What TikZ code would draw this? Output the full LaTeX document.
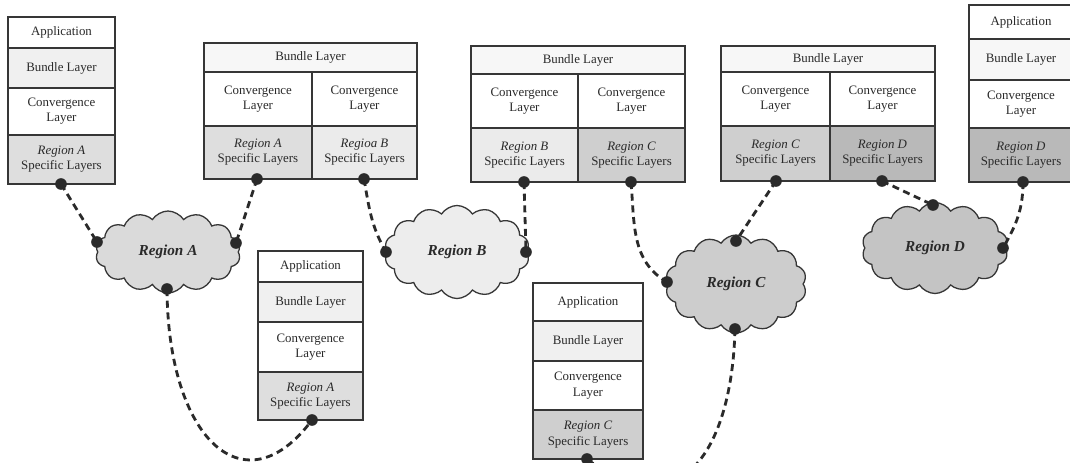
\documentclass[tikz,border=0pt]{standalone}
\usepackage{fontspec}
\setmainfont{Liberation Serif}
\usetikzlibrary{shapes.symbols}
\definecolor{ink}{HTML}{2A2A2A}
\definecolor{edge}{HTML}{363636}
\definecolor{gA}{HTML}{DEDEDE}
\definecolor{gB}{HTML}{EBEBEB}
\definecolor{gC}{HTML}{CFCFCF}
\definecolor{gD}{HTML}{B9B9B9}
\definecolor{gBun}{HTML}{F0F0F0}
\definecolor{gTop}{HTML}{F7F7F7}
\definecolor{clA}{HTML}{DADADA}
\definecolor{clB}{HTML}{EDEDED}
\definecolor{clC}{HTML}{CDCDCD}
\definecolor{clD}{HTML}{C4C4C4}
\tikzset{
  cellbox/.style={draw=edge, line width=1.5pt, inner sep=0pt, outer sep=0pt, align=center,
    text=ink, font=\fontsize{11}{13}\selectfont, anchor=center},
  regcloud/.style={cloud, cloud puffs=14, cloud puff arc=115, cloud ignores aspect,
    draw=edge, line width=1.1pt, inner sep=0pt, text=ink,
    font=\fontsize{13}{15}\selectfont\bfseries\itshape},
  link/.style={draw=ink, line width=2.4pt, dash pattern=on 6pt off 4pt},
  pin/.style={circle, fill=ink, inner sep=0pt, minimum size=0.35cm}
}
\newcommand\mkcell[7]{%
  \node[cellbox, fill=#6, minimum width={(#4-#2)*0.03cm}, minimum height={(#5-#3)*0.03cm}]
    (#1) at ({(#2+#4)/2},{(#3+#5)/2}) {#7};}
\begin{document}
\begin{tikzpicture}[x=0.03cm, y=-0.03cm]
\useasboundingbox (0,0) rectangle (1070,462);
\clip (0,0) rectangle (1070,462);
\fill[white] (0,0) rectangle (1070,462);

% Box 1 : end node in region A
\mkcell{b1a}{8}{17}{115}{48}{white}{Application}
\mkcell{b1b}{8}{48}{115}{88}{gBun}{Bundle Layer}
\mkcell{b1c}{8}{88}{115}{135}{white}{Convergence\\Layer}
\mkcell{b1d}{8}{135}{115}{184}{gA}{\textit{Region A}\\Specific Layers}

% Box 2 : gateway A-B
\mkcell{b2a}{204}{43}{417}{72}{gTop}{Bundle Layer}
\mkcell{b2b}{204}{72}{312}{126}{white}{Convergence\\Layer}
\mkcell{b2c}{312}{72}{417}{126}{white}{Convergence\\Layer}
\mkcell{b2d}{204}{126}{312}{179}{gA}{\textit{Region A}\\Specific Layers}
\mkcell{b2e}{312}{126}{417}{179}{gB}{\textit{Regioa B}\\Specific Layers}

% Box 3 : gateway B-C
\mkcell{b3a}{471}{46}{685}{74}{gTop}{Bundle Layer}
\mkcell{b3b}{471}{74}{578}{128}{white}{Convergence\\Layer}
\mkcell{b3c}{578}{74}{685}{128}{white}{Convergence\\Layer}
\mkcell{b3d}{471}{128}{578}{182}{gB}{\textit{Region B}\\Specific Layers}
\mkcell{b3e}{578}{128}{685}{182}{gC}{\textit{Region C}\\Specific Layers}

% Box 4 : gateway C-D
\mkcell{b4a}{721}{46}{935}{72}{gTop}{Bundle Layer}
\mkcell{b4b}{721}{72}{830}{126}{white}{Convergence\\Layer}
\mkcell{b4c}{830}{72}{935}{126}{white}{Convergence\\Layer}
\mkcell{b4d}{721}{126}{830}{181}{gC}{\textit{Region C}\\Specific Layers}
\mkcell{b4e}{830}{126}{935}{181}{gD}{\textit{Region D}\\Specific Layers}

% Box 5 : end node in region D
\mkcell{b5a}{969}{5}{1073}{39}{white}{Application}
\mkcell{b5b}{969}{39}{1073}{80}{gTop}{Bundle Layer}
\mkcell{b5c}{969}{80}{1073}{128}{white}{Convergence\\Layer}
\mkcell{b5d}{969}{128}{1073}{182}{gD}{\textit{Region D}\\Specific Layers}

% Box 6 : end node in region A (bottom)
\mkcell{b6a}{258}{251}{363}{282}{white}{Application}
\mkcell{b6b}{258}{282}{363}{322}{gBun}{Bundle Layer}
\mkcell{b6c}{258}{322}{363}{372}{white}{Convergence\\Layer}
\mkcell{b6d}{258}{372}{363}{420}{gA}{\textit{Region A}\\Specific Layers}

% Box 7 : end node in region C (bottom)
\mkcell{b7a}{533}{283}{643}{321}{white}{Application}
\mkcell{b7b}{533}{321}{643}{361}{gBun}{Bundle Layer}
\mkcell{b7c}{533}{361}{643}{410}{white}{Convergence\\Layer}
\mkcell{b7d}{533}{410}{643}{459}{gC}{\textit{Region C}\\Specific Layers}

% Clouds
\node[regcloud, fill=clA, minimum width=4.35cm, minimum height=2.46cm] (cldA) at (168,252) {Region A};
\node[regcloud, fill=clB, minimum width=4.35cm, minimum height=2.79cm] (cldB) at (457,252) {Region B};
\node[regcloud, fill=clC, minimum width=4.23cm, minimum height=2.94cm] (cldC) at (736,284) {Region C};
\node[regcloud, fill=clD, minimum width=4.38cm, minimum height=2.73cm] (cldD) at (935,248) {Region D};

% Attachment points
\coordinate (p1) at (61,184);
\coordinate (p2a) at (257,179);
\coordinate (p2b) at (364,179);
\coordinate (p3a) at (524,182);
\coordinate (p3b) at (631,182);
\coordinate (p4a) at (776,181);
\coordinate (p4b) at (882,181);
\coordinate (p5) at (1023,182);
\coordinate (p6) at (312,420);
\coordinate (p7) at (587,459);
\coordinate (qA1) at (97,242);
\coordinate (qA2) at (236,243);
\coordinate (qA3) at (167,289);
\coordinate (qB1) at (386,252);
\coordinate (qB2) at (526,252);
\coordinate (qC1) at (736,241);
\coordinate (qC2) at (667,282);
\coordinate (qC3) at (735,329);
\coordinate (qD1) at (933,205);
\coordinate (qD2) at (1003,248);

% Links
\draw[link] (p1) -- (qA1);
\draw[link] (p2a) -- (qA2);
\draw[link] (qA3) .. controls (168,440) and (245,510) .. (p6);
\draw[link] (p2b) to[out=-80,in=120] (qB1);
\draw[link] (p3a) -- (qB2);
\draw[link] (p3b) to[out=-85,in=150] (qC2);
\draw[link] (p4a) -- (qC1);
\draw[link] (p4b) -- (qD1);
\draw[link] (p5) to[out=-90,in=60] (qD2);
\draw[link] (qC3) .. controls (732,450) and (680,530) .. (p7);

% Dots
\foreach \p in {p1,p2a,p2b,p3a,p3b,p4a,p4b,p5,p6,p7,qA1,qA2,qA3,qB1,qB2,qC1,qC2,qC3,qD1,qD2}
  \node[pin] (\p dot) at (\p) {};
\end{tikzpicture}
\end{document}
